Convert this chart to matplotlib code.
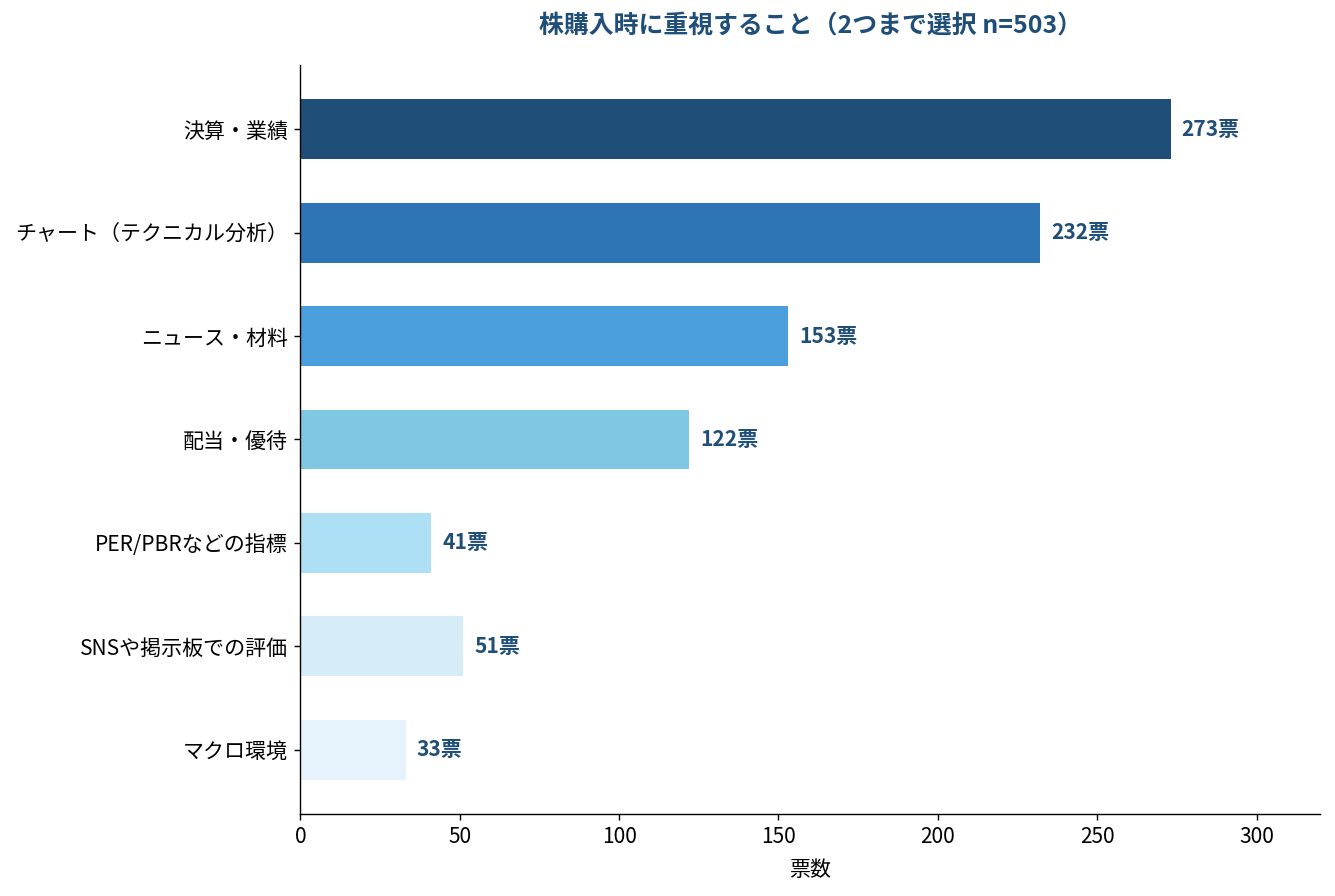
import matplotlib
matplotlib.use("Agg")
import matplotlib.pyplot as plt

plt.rcParams['font.family'] = ['Noto Sans CJK JP', 'DejaVu Sans']

categories = ['決算・業績', 'チャート（テクニカル分析）', 'ニュース・材料', '配当・優待',
              'PER/PBRなどの指標', 'SNSや掲示板での評価', 'マクロ環境']
votes = [273, 232, 153, 122, 41, 51, 33]
colors = ['#1f4e79', '#2e75b6', '#4a9edb', '#7fc8e4', '#aee0f5', '#d6edf7', '#e6f2fc']

fig, ax = plt.subplots(figsize=(13.35, 8.96), dpi=100)
y = list(range(len(categories)))
bars = ax.barh(y, votes, height=0.58, color=colors)
ax.invert_yaxis()
ax.set_yticks(y)
ax.set_yticklabels(categories, fontsize=15.1)
ax.set_xlim(0, 320)
ax.tick_params(axis='both', labelsize=15.1, length=4.5, width=1.0, pad=4.5)
ax.set_xlabel('票数', fontsize=15.1, labelpad=8)
ax.set_title('株購入時に重視すること（2つまで選択 n=503）', fontsize=17.9, fontweight='bold',
             color='#1f4e79', pad=24)

for b, v in zip(bars, votes):
    ax.text(b.get_width() + 3.5, b.get_y() + b.get_height() / 2, f'{v}票',
            va='center', ha='left', fontsize=15.1, fontweight='bold', color='#1f4e79')

ax.spines['top'].set_visible(False)
ax.spines['right'].set_visible(False)
ax.spines['left'].set_linewidth(1.0)
ax.spines['bottom'].set_linewidth(1.0)

fig.subplots_adjust(left=0.225, right=0.989, top=0.927, bottom=0.092)
fig.savefig('out.png', dpi=100)
